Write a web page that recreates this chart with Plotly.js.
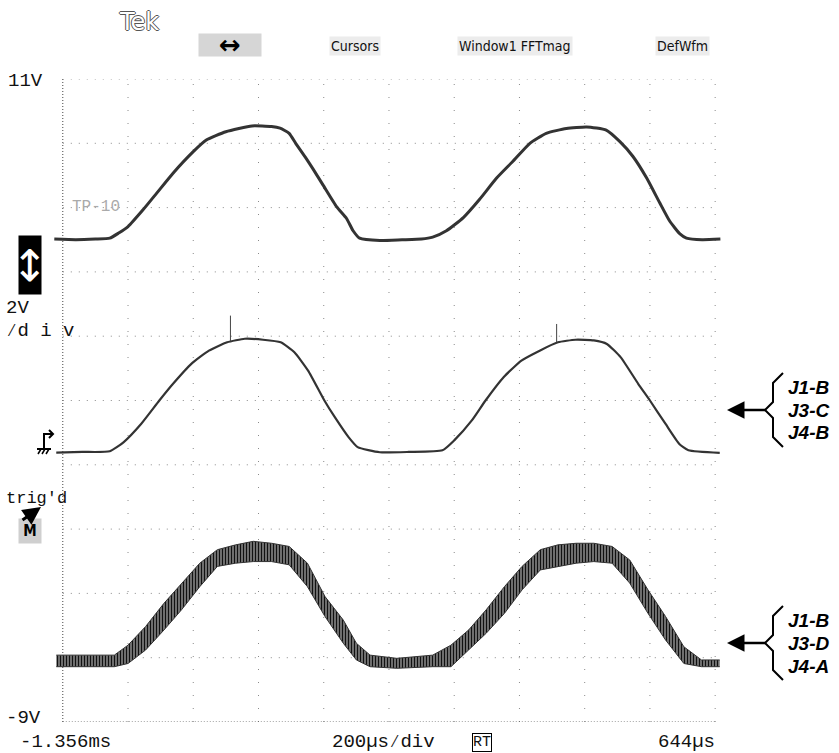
<!DOCTYPE html>
<html>
<head>
<meta charset="utf-8">
<script src="https://cdn.plot.ly/plotly-3.0.1.min.js"></script>
<style>html,body{margin:0;padding:0;background:#fff;}#chart{width:839px;height:753px;}</style>
</head>
<body>
<div id="chart"></div>
<script>
// ---- data (time in microseconds, amplitude in volts) ----
const ch1Time = [-1382,-1316,-1256,-1212,-1186,-1156,-1110,-1068,-1018,-956,-916,-856,-776,-716,-690,-662,-642,-610,-590,-558,-516,-486,-466,-446,-384,-316,-256,-222,-180,-128,-78,-26,24,76,126,188,250,310,352,392,434,474,504,536,556,604,660];
const ch1Volt = [6.02,6.0,6.02,6.05,6.2,6.41,6.93,7.45,8.07,8.74,9.10,9.36,9.54,9.52,9.47,9.31,9.0,8.53,8.22,7.70,7.02,6.66,6.28,6.05,5.98,6.0,6.02,6.08,6.28,6.69,7.26,7.92,8.44,9.0,9.31,9.46,9.51,9.41,9.05,8.59,7.92,7.15,6.59,6.18,6.05,6.0,6.02];

const ch2Time = [-1376,-1296,-1212,-1170,-1116,-1060,-1018,-962,-908,-852,-798,-742,-688,-646,-604,-554,-522,-480,-452,-384,-296,-192,-156,-102,-60,-4,50,106,162,216,272,312,354,408,444,492,534,562,658];
const ch2Volt = [-0.62,-0.6,-0.58,-0.30,0.27,1.0,1.52,2.14,2.55,2.81,2.92,2.89,2.81,2.50,1.93,1.0,0.48,-0.14,-0.45,-0.61,-0.6,-0.55,-0.24,0.38,1.0,1.73,2.24,2.55,2.81,2.89,2.87,2.76,2.35,1.52,1.0,0.27,-0.35,-0.55,-0.63];
const spikeTime = [-842, 158];
const spikeBase = [2.83, 2.81];
const spikeTop  = [3.64, 3.38];

const ch3Time = [-1376,-1198,-1156,-1102,-1046,-992,-936,-882,-826,-772,-716,-662,-606,-552,-496,-456,-414,-332,-222,-166,-112,-58,-2,52,108,162,218,272,328,382,438,492,548,602,658];
const ch3Top  = [-6.92,-6.92,-6.61,-6.03,-5.31,-4.68,-4.06,-3.64,-3.49,-3.38,-3.44,-3.54,-4.06,-5.10,-5.83,-6.55,-6.92,-7.02,-6.92,-6.61,-6.14,-5.51,-4.79,-4.16,-3.64,-3.49,-3.44,-3.44,-3.54,-3.96,-4.89,-5.72,-6.66,-7.07,-7.07];
const ch3Bot  = [-7.28,-7.28,-7.18,-6.76,-6.14,-5.51,-4.79,-4.16,-4.06,-4.01,-4.01,-4.11,-4.79,-5.72,-6.55,-7.07,-7.28,-7.33,-7.28,-7.28,-6.76,-6.24,-5.62,-4.89,-4.27,-4.16,-4.06,-4.01,-4.06,-4.68,-5.62,-6.45,-7.18,-7.28,-7.28];

// graticule: 10 x 10 divisions
const gridTimes = [-1356,-1156,-956,-756,-556,-356,-156,44,244,444,644];
const gridVolts = [11,9,7,5,3,1,-1,-3,-5,-7,-9];

// ---- layout helpers (pixel -> paper) ----
const L=53, T=79, W=670, H=643;
const px = x => (x-L)/W;
const py = y => (T+H-y)/H;

const traces = [];
traces.push({x:ch1Time, y:ch1Volt, mode:'lines', line:{color:'#333', width:3, shape:'spline', smoothing:0.5}, hoverinfo:'skip'});
traces.push({x:ch2Time, y:ch2Volt, mode:'lines', line:{color:'#333', width:2.2, shape:'spline', smoothing:0.5}, hoverinfo:'skip'});
for (let i=0;i<spikeTime.length;i++){
  traces.push({x:[spikeTime[i],spikeTime[i]], y:[spikeBase[i],spikeTop[i]], mode:'lines', line:{color:'#444', width:1}, hoverinfo:'skip'});
}
traces.push({x:ch3Time, y:ch3Bot, mode:'lines', line:{color:'#333', width:1}, hoverinfo:'skip'});
traces.push({x:ch3Time, y:ch3Top, mode:'lines', fill:'tonexty', fillcolor:'#666',
  fillpattern:{shape:'|', fgcolor:'#111', bgcolor:'#9a9a9a', size:3, solidity:0.55},
  line:{color:'#333', width:1}, hoverinfo:'skip'});

const shapes = [];
gridTimes.forEach((t,i)=>{
  let dash = '1px,12px', col='#8a8a8a';
  if (i===0){dash='1px,2px'; col='#444';}
  shapes.push({type:'line', xref:'x', yref:'y', x0:t, x1:t, y0:-9, y1:11, layer:'below', line:{color:col, width:1, dash:dash}});
});
gridVolts.forEach((v,i)=>{
  let dash = '1px,7px', col='#8a8a8a';
  if (i===gridVolts.length-1){dash='1px,2px'; col='#444';}
  shapes.push({type:'line', xref:'x', yref:'y', x0:-1356, x1:644, y0:v, y1:v, layer:'below', line:{color:col, width:1, dash:dash}});
});
function brace(yc){
  const p = [[783,yc-37],[773,yc-27],[773,yc-8],[765,yc],[773,yc+8],[773,yc+27],[783,yc+37]];
  return 'M ' + p.map(q=>px(q[0]).toFixed(5)+' '+py(q[1]).toFixed(5)).join(' L ');
}
shapes.push({type:'path', xref:'paper', yref:'paper', path:brace(410), line:{color:'#000', width:2}});
shapes.push({type:'path', xref:'paper', yref:'paper', path:brace(643), line:{color:'#000', width:2}});
function gpath(pts){return 'M '+pts.map(q=>px(q[0]).toFixed(5)+' '+py(q[1]).toFixed(5)).join(' L ');}
shapes.push({type:'path', xref:'paper', yref:'paper', path:gpath([[44,449],[44,434],[52,434]]), line:{color:'#000', width:2}});
shapes.push({type:'path', xref:'paper', yref:'paper', path:gpath([[49,430],[53,434],[49,438]]), line:{color:'#000', width:2}});
shapes.push({type:'path', xref:'paper', yref:'paper', path:gpath([[37,449],[51,449]]), line:{color:'#000', width:2}});
shapes.push({type:'path', xref:'paper', yref:'paper', path:gpath([[38,454],[41,449]]), line:{color:'#000', width:1.5}});
shapes.push({type:'path', xref:'paper', yref:'paper', path:gpath([[42,454],[45,449]]), line:{color:'#000', width:1.5}});
shapes.push({type:'path', xref:'paper', yref:'paper', path:gpath([[46,454],[49,449]]), line:{color:'#000', width:1.5}});

const mono = 'Liberation Mono, DejaVu Sans Mono, monospace';
const narrow = 'Liberation Sans Narrow, DejaVu Sans Condensed, DejaVu Sans, sans-serif';
function txt(text, x, y, opts){
  return Object.assign({text:text, xref:'paper', yref:'paper', x:px(x), y:py(y), showarrow:false,
    xanchor:'left', yanchor:'middle', font:{family:mono, size:19, color:'#111'}}, opts||{});
}
const ann = [
  txt('Tek', 117, 22, {font:{family:'DejaVu Sans', size:24, color:'#fff', shadow:'1px 0 0 #555, -1px 0 0 #555, 0 1px 0 #555, 0 -1px 0 #555'}}),
  txt('<b>↔</b>', 230, 45, {xanchor:'center', width:60, height:20, bgcolor:'#d6d6d6', font:{family:'DejaVu Sans', size:26, color:'#000'}}),
  txt('Cursors', 329, 46, {bgcolor:'#ececec', font:{family:narrow, size:14, color:'#111'}}),
  txt('Window1 FFTmag', 457, 46, {bgcolor:'#ececec', font:{family:narrow, size:14, color:'#111'}}),
  txt('DefWfm', 655, 46, {bgcolor:'#ececec', font:{family:narrow, size:14, color:'#111'}}),
  txt('11V', 6, 81),
  txt('2V', 4, 308),
  txt('⁄d i v', 4, 331),
  txt("trig'd", 4, 498, {font:{family:mono, size:17, color:'#111'}}),
  txt('<b>M</b>', 30, 531, {xanchor:'center', width:20, height:22, bgcolor:'#cfcfcf', font:{family:narrow, size:15, color:'#000'}}),
  txt('-9V', 4, 718),
  txt('-1.356ms', 18, 742),
  txt('200µs⁄div', 330, 742),
  txt('RT', 482, 742, {xanchor:'center', bordercolor:'#000', borderwidth:1, borderpad:0, font:{family:mono, size:15, color:'#111'}}),
  txt('644µs', 656, 742),
  txt('TP-10', 70, 207, {font:{family:mono, size:16, color:'#aaa'}}),
  txt('↕', 30, 265, {xanchor:'center', width:20, height:56, bgcolor:'#000', font:{family:'DejaVu Sans', size:44, color:'#fff'}}),
  {text:'', xref:'paper', yref:'paper', x:px(41), y:py(507), ax:-20, ay:14, showarrow:true, arrowhead:2, arrowsize:1.2, arrowwidth:3, arrowcolor:'#000'},
];
const rightLabels = [['J1-B',387],['J3-C',410],['J4-B',433],['J1-B',620],['J3-D',643],['J4-A',666]];
rightLabels.forEach(r=>ann.push(txt('<b><i>'+r[0]+'</i></b>', 786, r[1], {font:{family:'Liberation Sans, Arial, sans-serif', size:19, color:'#000'}})));
[410,643].forEach(yc=>ann.push({text:'', xref:'paper', yref:'paper', x:px(727), y:py(yc), ax:40, ay:0, showarrow:true, arrowhead:2, arrowsize:1.4, arrowwidth:2.5, arrowcolor:'#000'}));

const layout = {
  width:839, height:753,
  margin:{l:L, r:839-L-W, t:T, b:753-T-H, pad:0},
  paper_bgcolor:'#fff', plot_bgcolor:'#fff',
  showlegend:false, hovermode:false,
  xaxis:{range:[-1386,668], showgrid:false, zeroline:false, showticklabels:false, showline:false, ticks:''},
  yaxis:{range:[-9,11], showgrid:false, zeroline:false, showticklabels:false, showline:false, ticks:''},
  shapes:shapes, annotations:ann
};
Plotly.newPlot('chart', traces, layout, {staticPlot:true, displayModeBar:false});
</script>
</body>
</html>
